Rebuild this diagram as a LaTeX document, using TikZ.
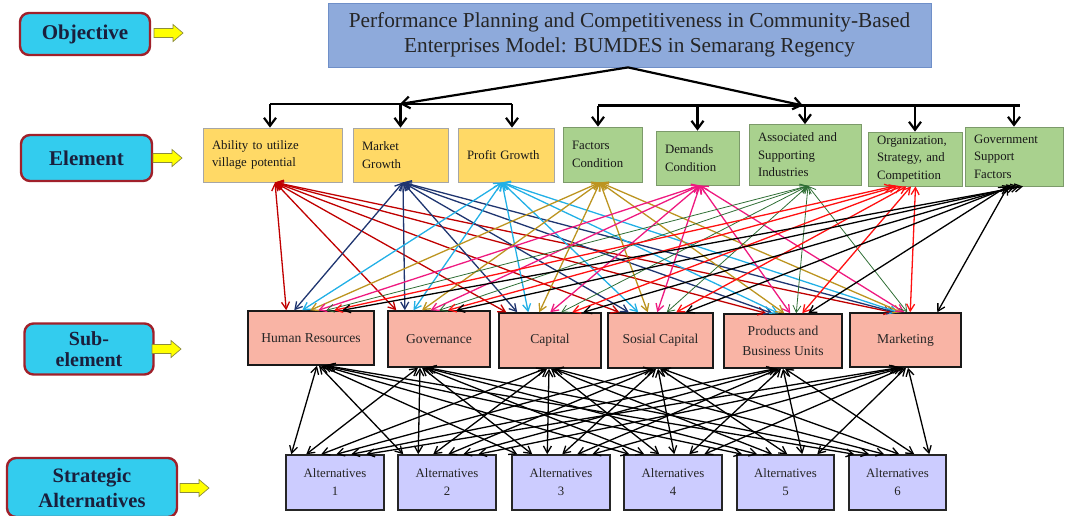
\documentclass[tikz,border=0pt]{standalone}
\usepackage{fontspec}
\setmainfont{Liberation Serif}
\usetikzlibrary{arrows.meta}
\definecolor{cA}{HTML}{C00000}
\definecolor{cB}{HTML}{1F3570}
\definecolor{cC}{HTML}{22B0E6}
\definecolor{cD}{HTML}{BC9420}
\definecolor{cE}{HTML}{EE1A80}
\definecolor{cF}{HTML}{2F6E35}
\definecolor{cG}{HTML}{FF1010}
\definecolor{cH}{HTML}{000000}
\definecolor{labF}{HTML}{33CCEE}
\definecolor{labB}{HTML}{A0202A}
\definecolor{labT}{HTML}{1A1F3C}
\definecolor{topF}{HTML}{8EAADB}
\definecolor{topB}{HTML}{6F8FC8}
\definecolor{yelF}{HTML}{FFD966}
\definecolor{yelB}{HTML}{A6A6A6}
\definecolor{grnF}{HTML}{A9D18E}
\definecolor{grnB}{HTML}{7C9A6A}
\definecolor{subF}{HTML}{F9B4A5}
\definecolor{altF}{HTML}{CCCCFF}
\definecolor{arrF}{HTML}{FFFF00}
\definecolor{arrB}{HTML}{8C8C3C}
\begin{document}
\begin{tikzpicture}[x=1pt,y=-1pt,
  lab/.style={draw=labB,fill=labF,line width=2.4pt,rounded corners=9pt,
    font=\bfseries\fontsize{21}{22}\selectfont,text=labT,align=center,inner sep=0pt},
  topbox/.style={draw=topB,fill=topF,line width=0.8pt,align=center,inner sep=0pt,
    font=\fontsize{21.3}{25}\selectfont,text=black!85},
  elbox/.style={line width=0.8pt,inner xsep=9pt,inner ysep=0pt,align=left,
    font=\fontsize{12.8}{17.5}\selectfont,text=black!90},
  ey/.style={elbox,draw=yelB,fill=yelF},
  eg/.style={elbox,draw=grnB,fill=grnF},
  subbox/.style={draw=black!90,fill=subF,line width=1.5pt,align=center,inner sep=0pt,
    font=\fontsize{13.6}{20}\selectfont,text=black!85},
  altbox/.style={draw=black!85,fill=altF,line width=1.5pt,align=center,inner sep=0pt,
    minimum width=97pt,minimum height=55pt,font=\fontsize{12.8}{18}\selectfont,text=black!85},
  tree/.style={line width=2.2pt,black},
  treearr/.style={tree,-{Straight Barb[length=8pt,width=12pt]}},
  econn/.style={{Straight Barb[length=7pt,width=8pt]}-{Straight Barb[length=7pt,width=8pt]}},
  aconn/.style={line width=1.3pt,black,{Straight Barb[length=7pt,width=8pt]}-{Straight Barb[length=7pt,width=8pt]}},
  yarr/.pic={\draw[draw=arrB,fill=arrF,line width=0.7pt]
     (0,-4.5) -- (19,-4.5) -- (19,-8.5) -- (29,0) -- (19,8.5) -- (19,4.5) -- (0,4.5) -- cycle;}
]
\useasboundingbox (0,0) rectangle (1073,515);
\clip (0,0) rectangle (1073,515);

% left labels
\node[lab,minimum width=130pt,minimum height=42pt] (lobj) at (85,34) {Objective};
\node[lab,minimum width=131pt,minimum height=46pt] (lele) at (86.5,158) {Element};
\node[lab,minimum width=129pt,minimum height=51pt,font=\bfseries\fontsize{20}{21.5}\selectfont] (lsub) at (89,349) {Sub-\\element};
\node[lab,minimum width=170pt,minimum height=59pt,font=\bfseries\fontsize{20.5}{25}\selectfont] (lalt) at (92,487.5) {Strategic\\Alternatives};
\pic at (154,33) {yarr};
\pic at (153,158) {yarr};
\pic at (152,349) {yarr};
\pic at (180,488) {yarr};

% objective
\node[topbox,minimum width=603pt,minimum height=64pt] (top) at (629.5,35)
  {Performance Planning and Competitiveness in Community-Based\\Enterprises Model: BUMDES in Semarang Regency};

% elements
\node[ey,minimum width=139pt,minimum height=54pt,text width=121pt] (e1) at (272.5,155) {Ability to utilize\\village potential};
\node[ey,minimum width=95pt,minimum height=54pt,text width=77pt] (e2) at (400.5,155) {Market\\Growth};
\node[ey,minimum width=96pt,minimum height=54pt,text width=78pt] (e3) at (506,155) {Profit Growth};
\node[eg,minimum width=79pt,minimum height=55pt,text width=61pt] (e4) at (602.5,154.5) {Factors\\Condition};
\node[eg,minimum width=83pt,minimum height=54pt,text width=65pt] (e5) at (697.5,158) {Demands\\Condition};
\node[eg,minimum width=112pt,minimum height=61pt,text width=94pt] (e6) at (805,155) {Associated and\\Supporting\\Industries};
\node[eg,minimum width=94pt,minimum height=54pt,text width=76pt] (e7) at (915,159) {Organization,\\Strategy, and\\Competition};
\node[eg,minimum width=98pt,minimum height=59pt,text width=80pt] (e8) at (1014,156.5) {Government\\Support\\Factors};

% sub-elements
\node[subbox,minimum width=126pt,minimum height=54pt] (s1) at (311,338) {Human Resources};
\node[subbox,minimum width=102pt,minimum height=56pt] (s2) at (439,339) {Governance};
\node[subbox,minimum width=102pt,minimum height=55pt] (s3) at (550,340.5) {Capital};
\node[subbox,minimum width=105pt,minimum height=55pt] (s4) at (660.5,340.5) {Sosial Capital};
\node[subbox,minimum width=118pt,minimum height=54pt] (s5) at (783,341) {Products and\\Business Units};
\node[subbox,minimum width=111pt,minimum height=54pt] (s6) at (905.5,340) {Marketing};

% alternatives
\node[altbox,minimum width=98pt] (a1) at (335,482.5) {Alternatives\\1};
\node[altbox,minimum width=98pt] (a2) at (447,482.5) {Alternatives\\2};
\node[altbox,minimum width=98pt] (a3) at (561,482.5) {Alternatives\\3};
\node[altbox,minimum width=98pt] (a4) at (673,482.5) {Alternatives\\4};
\node[altbox] (a5) at (785.5,482.5) {Alternatives\\5};
\node[altbox] (a6) at (897.5,482.5) {Alternatives\\6};

% hierarchy tree
\coordinate (lhub) at (400,104);
\coordinate (rhub) at (803,105.5);
\coordinate (rend) at (1020,105.5);
\draw[treearr] ([xshift=-1.5pt]top.south) -- (lhub);
\draw[treearr] ([xshift=-1.5pt]top.south) -- (rhub);
\draw[tree] ([xshift=-2.5pt]e1.north |- lhub) -- ([xshift=6pt]e3.north |- lhub);
\draw[tree] ([xshift=-4.5pt]e4.north |- rhub) -- (rend);
\draw[treearr] ([xshift=-2.5pt]e1.north |- lhub) -- ([xshift=-2.5pt]e1.north);
\draw[treearr] (e2.north |- lhub) -- (e2.north);
\draw[treearr] ([xshift=6pt]e3.north |- lhub) -- ([xshift=6pt]e3.north);
\draw[treearr] ([xshift=-4.5pt]e4.north |- rhub) -- ([xshift=-4.5pt]e4.north);
\foreach \k in {5,6,7,8}{
  \draw[treearr] (e\k.north |- rhub) -- (e\k.north);
}

% element <-> sub-element connectors
\foreach \i/\col/\lw/\soff in {1/cA/1.3/2.5, 2/cB/1.3/2.5, 3/cC/1.3/-4, 4/cD/1.3/-2.5, 5/cE/1.3/2.5, 6/cF/0.8/3, 7/cG/1.3/0, 8/cH/1.3/0}{
  \foreach \j/\a/\b in {1/39/8, 2/9/8.6, 3/8/11, 4/12/9.5, 5/43/6, 6/43/3}{
    \pgfmathsetmacro\ex{((\i==8) && (\j==6)) ? 88 : (\a+\b*(\i-1))}
    \pgfmathsetmacro\sx{(\i==7) ? (-22+4.5*(\j-1)) : ((\i==8) ? ((\j==6) ? -6 : (13-4*\j)) : \soff)}
    \draw[econn,draw=\col,line width=\lw pt] ([xshift=\sx pt]e\i.south) -- ([xshift=\ex pt]s\j.north west);
  }
}

% sub-element <-> alternatives connectors
\foreach \j/\so in {1/11, 2/-16, 3/0, 4/-3.5, 5/-3, 6/-2.5}{
  \foreach \k in {1,...,6}{
    \pgfmathsetmacro\sx{\so+(\k-3.5)*2}
    \pgfmathsetmacro\ex{6+15*(\j-1)}
    \draw[aconn] ([xshift=\sx pt]s\j.south) -- ([xshift=\ex pt]a\k.north west);
  }
}
\end{tikzpicture}
\end{document}
